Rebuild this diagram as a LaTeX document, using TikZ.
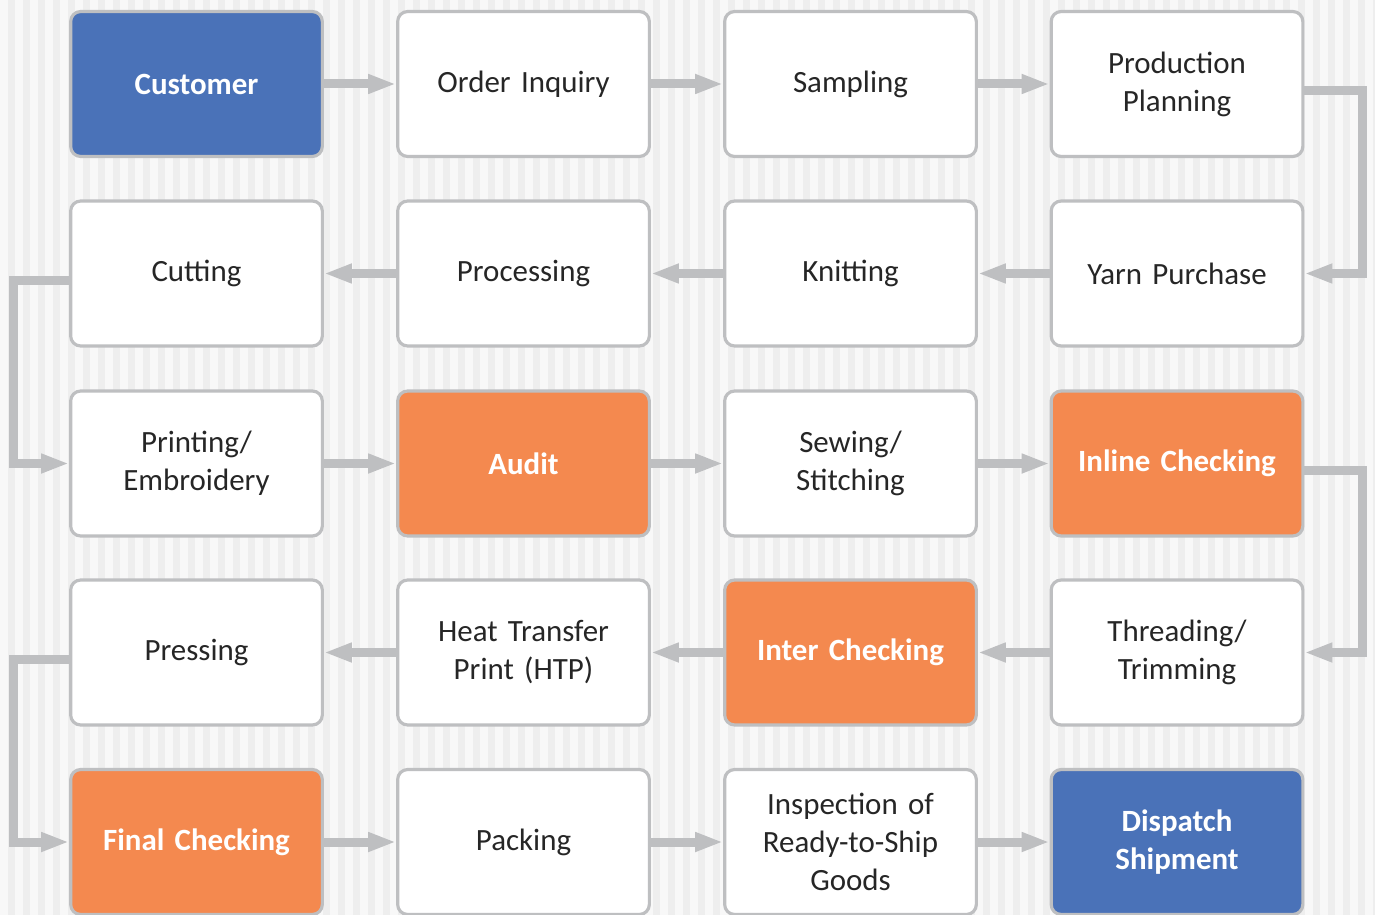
\documentclass[tikz,border=0pt]{standalone}
\usepackage{fontspec}
\setmainfont{Carlito}
\usetikzlibrary{arrows.meta}
\definecolor{boxblue}{HTML}{4A72B8}
\definecolor{boxorange}{HTML}{F4894F}
\definecolor{edgegray}{HTML}{BEBFC1}
\definecolor{stripegray}{HTML}{EEEEEE}
\definecolor{txtgray}{HTML}{262626}
\tikzset{
	card/.style={draw=edgegray, line width=1.8pt, rounded corners=0.2cm, minimum width=5cm, minimum height=2.9cm, text width=4.8cm, align=center, fill=white, text=txtgray, font=\fontsize{17.6}{21.6}\selectfont},
	bluecard/.style={card, fill=boxblue, text=white, font=\fontsize{17.6}{21.6}\selectfont\bfseries},
	orangecard/.style={card, fill=boxorange, text=white, font=\fontsize{17.6}{21.6}\selectfont\bfseries},
	flow/.style={draw=edgegray, line width=0.18cm, -{Triangle[width=0.36cm,length=0.56cm]}},
}

\begin{document}
\begin{tikzpicture}[x=0.02cm, y=-0.02cm]
		%%%%% START %%%%%
		
		\useasboundingbox (0, 0) rectangle (1375, 915);
		\fill[stripegray] (0, 0) rectangle (1375, 915);
		\foreach \sx in {0, 15, ..., 1365}
			\fill[white!60!stripegray] (\sx, 0) rectangle ++(8, 915);
		
		% row 1
		\node[bluecard] (cust) at (196.5, 84) {Customer};
		\node[card] (inq) at (523.5, 84) {Order Inquiry};
		\node[card] (samp) at (850.5, 84) {Sampling};
		\node[card] (plan) at (1177, 84) {Production\\Planning};
		
		% row 2
		\node[card] (cut) at (196.5, 273.5) {Cutting};
		\node[card] (proc) at (523.5, 273.5) {Processing};
		\node[card] (knit) at (850.5, 273.5) {Knitting};
		\node[card] (yarn) at (1177, 273.5) {Yarn Purchase};
		
		% row 3
		\node[card] (print) at (196.5, 463.5) {Printing/\\Embroidery};
		\node[orangecard] (audit) at (523.5, 463.5) {Audit};
		\node[card] (sew) at (850.5, 463.5) {Sewing/\\Stitching};
		\node[orangecard] (inline) at (1177, 463.5) {Inline Checking};
		
		% row 4
		\node[card] (press) at (196.5, 652.5) {Pressing};
		\node[card] (htp) at (523.5, 652.5) {Heat Transfer\\Print (HTP)};
		\node[orangecard] (inter) at (850.5, 652.5) {Inter Checking};
		\node[card] (thread) at (1177, 652.5) {Threading/\\Trimming};
		
		% row 5
		\node[orangecard] (final) at (196.5, 842) {Final Checking};
		\node[card] (pack) at (523.5, 842) {Packing};
		\node[card] (insp) at (850.5, 842) {Inspection of\\Ready-to-Ship\\Goods};
		\node[bluecard] (disp) at (1177, 842) {Dispatch\\Shipment};
		
		% arrows
		\draw[flow] (cust) -- (inq);
		\draw[flow] (inq) -- (samp);
		\draw[flow] (samp) -- (plan);
		\draw[flow] ([yshift=-0.14cm]plan.east) -- ++(58, 0) |- (yarn.east);
		
		\draw[flow] (yarn) -- (knit);
		\draw[flow] (knit) -- (proc);
		\draw[flow] (proc) -- (cut);
		\draw[flow] ([yshift=-0.14cm]cut.west) -- ++(-56, 0) |- (print.west);
		
		\draw[flow] (print) -- (audit);
		\draw[flow] (audit) -- (sew);
		\draw[flow] (sew) -- (inline);
		\draw[flow] ([yshift=-0.14cm]inline.east) -- ++(58, 0) |- (thread.east);
		
		\draw[flow] (thread) -- (inter);
		\draw[flow] (inter) -- (htp);
		\draw[flow] (htp) -- (press);
		\draw[flow] ([yshift=-0.14cm]press.west) -- ++(-56, 0) |- (final.west);
		
		\draw[flow] (final) -- (pack);
		\draw[flow] (pack) -- (insp);
		\draw[flow] (insp) -- (disp);
		
		%%%%% END %%%%%
	\end{tikzpicture}
\end{document}
